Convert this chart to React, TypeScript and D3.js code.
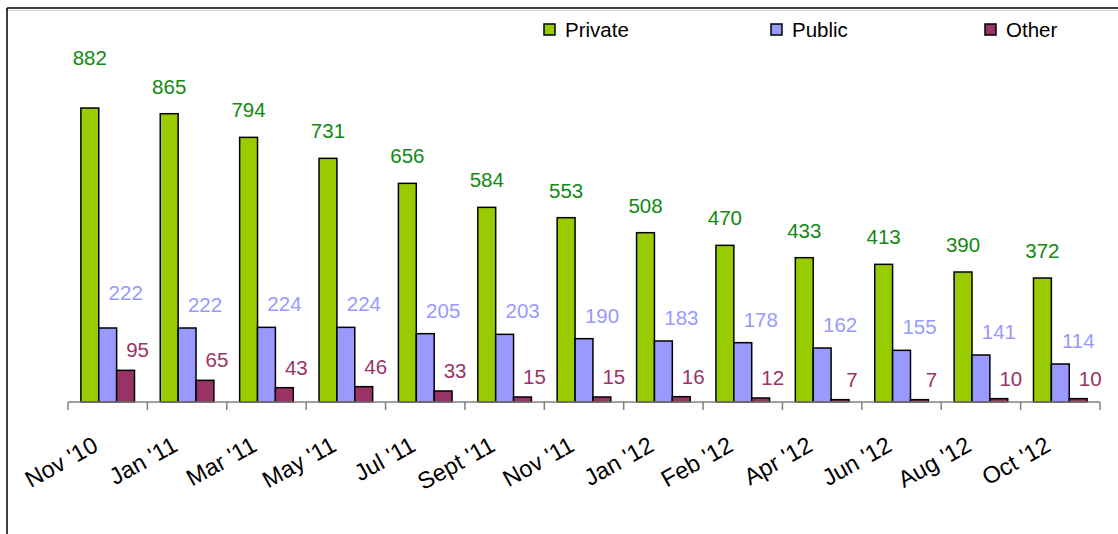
import React from 'react';
import { useEffect, useRef } from 'react';
import { select, scaleBand, scaleLinear } from 'd3';

const months = ["Nov '10", "Jan '11", "Mar '11", "May '11", "Jul '11", "Sept '11", "Nov '11", "Jan '12", "Feb '12", "Apr '12", "Jun '12", "Aug '12", "Oct '12"];
const privateVals = [882, 865, 794, 731, 656, 584, 553, 508, 470, 433, 413, 390, 372];
const publicVals = [222, 222, 224, 224, 205, 203, 190, 183, 178, 162, 155, 141, 114];
const otherVals = [95, 65, 43, 46, 33, 15, 15, 16, 12, 7, 7, 10, 10];
const seriesNames = ['Private', 'Public', 'Other'];
const seriesColors = ['#99cc00', '#9999ff', '#993366'];
const labelColors = ['#108a10', '#9999ff', '#993366'];

function App() {
    const svgRef = useRef(null);

    useEffect(() => {
        const width = 1118;
        const height = 534;
        const font = 'Liberation Sans, Arial, sans-serif';
        const svg = select(svgRef.current);
        svg.selectAll('*').remove();

        // frame (only top and left edges show)
        svg.append('line').attr('x1', 8).attr('x2', width).attr('y1', 10.5).attr('y2', 10.5)
            .attr('stroke', '#d4d4d4').attr('stroke-width', 1);
        svg.append('line').attr('x1', 7).attr('x2', width).attr('y1', 8).attr('y2', 8)
            .attr('stroke', '#000').attr('stroke-width', 1.5);
        svg.append('line').attr('x1', 7).attr('x2', 7).attr('y1', 8).attr('y2', height)
            .attr('stroke', '#000').attr('stroke-width', 1.5);

        const x = scaleBand().domain(months).range([68, 1100]).paddingInner(0).paddingOuter(0);
        const inner = scaleBand().domain(seriesNames).range([0, x.bandwidth()]).paddingInner(0).paddingOuter(0.72);
        const y = scaleLinear().domain([0, 1000]).range([402, 402 - 333.3]);

        const series = [privateVals, publicVals, otherVals];

        const g = svg.append('g');
        series.forEach((vals, s) => {
            g.append('g')
                .selectAll('rect')
                .data(vals)
                .join('rect')
                .attr('x', (d, i) => x(months[i]) + inner(seriesNames[s]))
                .attr('y', d => y(d))
                .attr('width', inner.bandwidth())
                .attr('height', d => y(0) - y(d))
                .attr('fill', seriesColors[s])
                .attr('stroke', '#000')
                .attr('stroke-width', 1.5);
        });

        // axis line and ticks
        svg.append('line').attr('x1', 68).attr('x2', 1100).attr('y1', y(0)).attr('y2', y(0))
            .attr('stroke', '#808080').attr('stroke-width', 1.5);
        const tickPos = months.map(m => x(m)).concat([1100]);
        svg.append('g').selectAll('line').data(tickPos).join('line')
            .attr('x1', d => d).attr('x2', d => d)
            .attr('y1', y(0)).attr('y2', y(0) + 8)
            .attr('stroke', '#808080').attr('stroke-width', 1.5);

        // category labels
        svg.append('g').selectAll('text').data(months).join('text')
            .attr('transform', d => `translate(${x(d) + x.bandwidth() / 2 - 8},450) rotate(-29)`)
            .attr('text-anchor', 'end')
            .attr('font-family', font)
            .attr('font-size', 23.5)
            .attr('fill', '#000')
            .text(d => d);

        // value labels
        const dxs = [0, 18, 12];
        series.forEach((vals, s) => {
            svg.append('g').selectAll('text').data(vals).join('text')
                .attr('x', (d, i) => x(months[i]) + inner(seriesNames[s]) + inner.bandwidth() / 2 + dxs[s])
                .attr('y', (d, i) => {
                    if (s === 0) return y(d) - (i === 0 ? 43 : 20);
                    if (s === 1) return y(d) - (i === 0 ? 28 : 16);
                    return y(d) - 13;
                })
                .attr('text-anchor', 'middle')
                .attr('font-family', font)
                .attr('font-size', 20.5)
                .attr('fill', labelColors[s])
                .text(d => d);
        });

        // legend
        const legendX = [544, 771, 985];
        const legend = svg.append('g').selectAll('g').data(seriesNames).join('g')
            .attr('transform', (d, i) => `translate(${legendX[i]},24)`);
        legend.append('rect')
            .attr('width', 11).attr('height', 11)
            .attr('fill', (d, i) => seriesColors[i])
            .attr('stroke', '#000').attr('stroke-width', 1.5);
        legend.append('text')
            .attr('x', 21).attr('y', 12.5)
            .attr('font-family', font)
            .attr('font-size', 20.5)
            .attr('fill', '#000')
            .text(d => d);
    }, []);

    return (
        <div>
            <svg ref={svgRef} width={1118} height={534}
                style={{ position: 'absolute', left: 0, top: 0, background: '#fff' }}>
            </svg>
        </div>
    );
}

export default App;
